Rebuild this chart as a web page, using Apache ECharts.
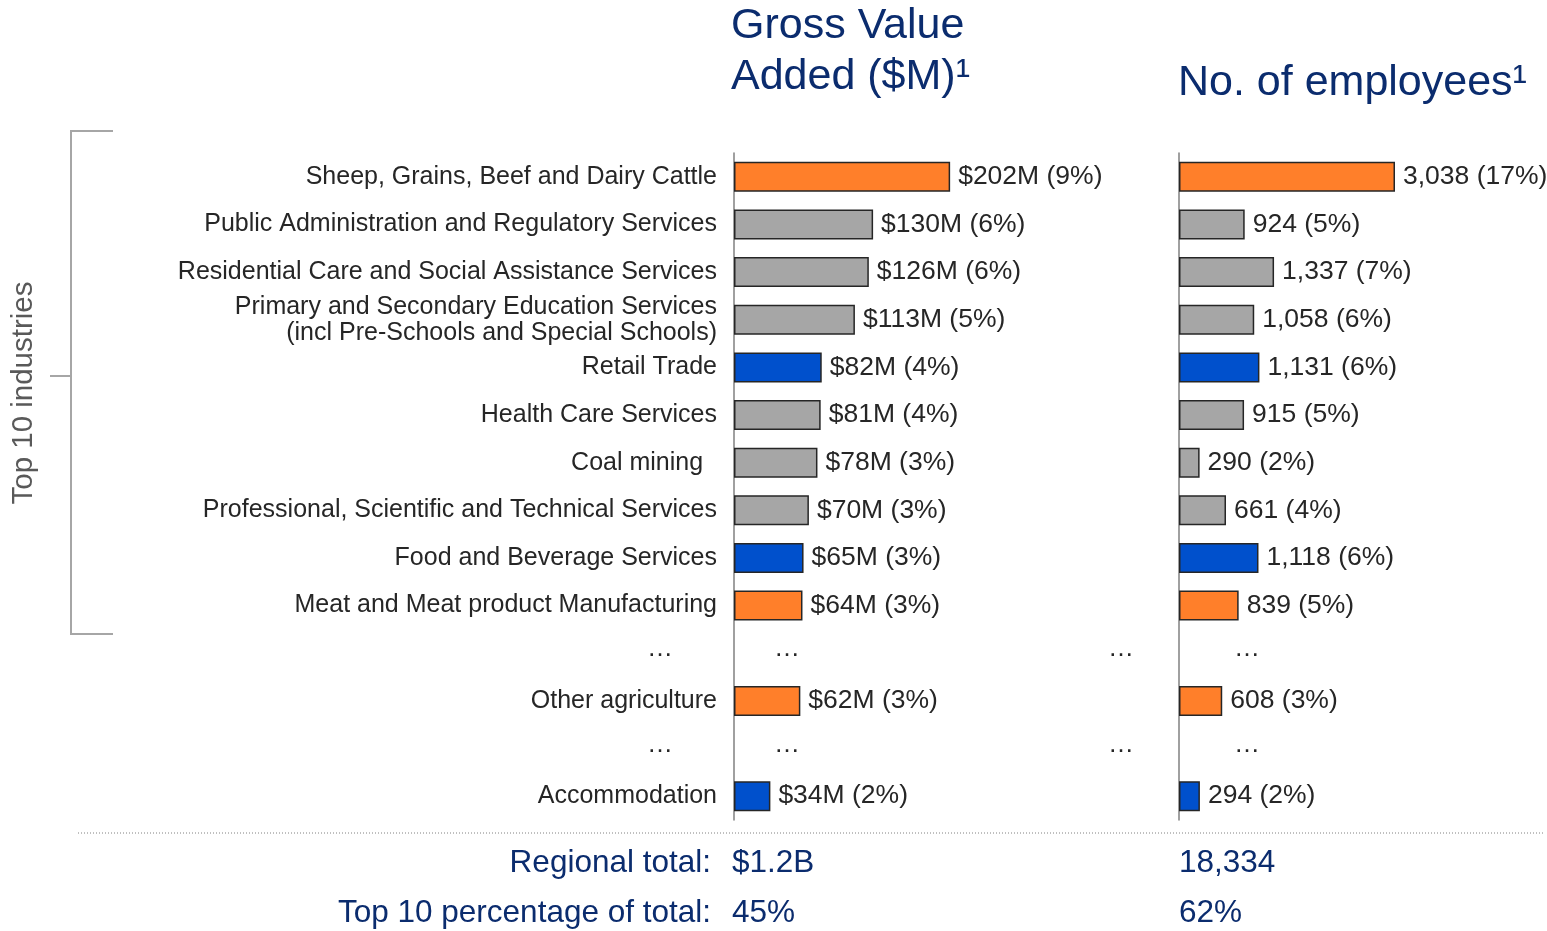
<!DOCTYPE html>
<html>
<head>
<meta charset="utf-8">
<script src="https://cdn.jsdelivr.net/npm/echarts@6/dist/echarts.min.js"></script>
<style>
  html, body { margin: 0; padding: 0; background: #fff; }
  #chart { width: 1547px; height: 931px; }
</style>
</head>
<body>
<div id="chart"></div>
<script>
// rows, top to bottom ('' marks the "…" gap rows)
const industries = [
  'Sheep, Grains, Beef and Dairy Cattle',
  'Public Administration and Regulatory Services',
  'Residential Care and Social Assistance Services',
  'Primary and Secondary Education Services\n(incl Pre-Schools and Special Schools)',
  'Retail Trade',
  'Health Care Services',
  'Coal mining  ',
  'Professional, Scientific and Technical Services',
  'Food and Beverage Services',
  'Meat and Meat product Manufacturing',
  '',
  'Other agriculture',
  '',
  'Accommodation'
];
const gvaValues = [202, 130, 126, 113, 82, 81, 78, 70, 65, 64, null, 62, null, 34];
const gvaShares = [9, 6, 6, 5, 4, 4, 3, 3, 3, 3, null, 3, null, 2];
const empValues = [3038, 924, 1337, 1058, 1131, 915, 290, 661, 1118, 839, null, 608, null, 294];
const empShares = [17, 5, 7, 6, 6, 5, 2, 4, 6, 5, null, 3, null, 2];
const groups = ['agri', 'other', 'other', 'other', 'tour', 'other', 'other', 'other', 'tour', 'agri', null, 'agri', null, 'tour'];

const groupColors = { agri: '#FF7F2A', other: '#A6A6A6', tour: '#0050CC' };
const navy = '#0B2C6E';
const textColor = '#262626';
const font = '"Liberation Sans", Arial, sans-serif';

function barData(values) {
  return values.map((v, i) => v == null ? '-' : {
    value: v,
    itemStyle: { color: groupColors[groups[i]] }
  });
}

const chart = echarts.init(document.getElementById('chart'));

const gridTop = 153, gridHeight = 667;
const rowH = gridHeight / industries.length;
const rowY = i => gridTop + rowH * (i + 0.5);

const option = {
  animation: false,
  textStyle: { fontFamily: font },
  grid: [
    { left: 734, top: gridTop, width: 428, height: gridHeight },
    { left: 1179, top: gridTop, width: 284.4, height: gridHeight }
  ],
  xAxis: [
    { gridIndex: 0, type: 'value', min: 0, max: 400, show: false },
    { gridIndex: 1, type: 'value', min: 0, max: 4000, show: false }
  ],
  yAxis: [
    {
      gridIndex: 0, type: 'category', data: industries, inverse: true,
      axisLine: { lineStyle: { color: '#808080', width: 1.5 } },
      axisTick: { show: false },
      axisLabel: { color: textColor, fontSize: 25, margin: 17, lineHeight: 26, fontFamily: font }
    },
    {
      gridIndex: 1, type: 'category', data: industries, inverse: true,
      axisLine: { lineStyle: { color: '#808080', width: 1.5 } },
      axisTick: { show: false },
      axisLabel: { show: false }
    }
  ],
  series: [
    {
      type: 'bar', xAxisIndex: 0, yAxisIndex: 0, barWidth: 30,
      data: barData(gvaValues),
      itemStyle: { borderColor: textColor, borderWidth: 1.5 },
      label: {
        show: true, position: 'right', distance: 8, color: textColor, fontSize: 26.5, fontFamily: font,
        formatter: p => '$' + p.value + 'M (' + gvaShares[p.dataIndex] + '%)'
      }
    },
    {
      type: 'bar', xAxisIndex: 1, yAxisIndex: 1, barWidth: 30,
      data: barData(empValues),
      itemStyle: { borderColor: textColor, borderWidth: 1.5 },
      label: {
        show: true, position: 'right', distance: 8, color: textColor, fontSize: 26.5, fontFamily: font,
        formatter: p => p.value.toLocaleString('en-US') + ' (' + empShares[p.dataIndex] + '%)'
      }
    }
  ],
  graphic: []
};

// headers
const g = option.graphic;
g.push({ type: 'text', left: 731, top: 1, style: { text: 'Gross Value\nAdded ($M)¹', fill: navy, font: '43px ' + font, lineHeight: 51 } });
g.push({ type: 'text', left: 1178, top: 62, style: { text: 'No. of employees¹', fill: navy, font: '43px ' + font } });

// bracket for top 10
const bracket = { stroke: '#A6A6A6', lineWidth: 2 };
g.push({ type: 'polyline', shape: { points: [[113, 131], [71, 131], [71, 634], [113, 634]] }, style: Object.assign({ fill: null }, bracket) });
g.push({ type: 'line', shape: { x1: 50, y1: 376, x2: 71, y2: 376 }, style: bracket });
g.push({ type: 'text', x: 24, y: 393, rotation: Math.PI / 2,
  style: { text: 'Top 10 industries', fill: '#595959', font: '29.5px ' + font, align: 'center', verticalAlign: 'middle' } });

// "…" gap rows
industries.forEach((name, i) => {
  if (name !== '') return;
  [660, 787, 1121, 1247].forEach(x => {
    g.push({ type: 'text', x: x, y: rowY(i) - 4,
      style: { text: '…', fill: textColor, font: '26px ' + font, align: 'center', verticalAlign: 'middle' } });
  });
});

// dotted separator and totals
g.push({ type: 'line', shape: { x1: 78, y1: 833, x2: 1545, y2: 833 }, style: { stroke: '#808080', lineWidth: 1, lineDash: [1, 2] } });
const totals = [
  ['Regional total:', '$1.2B', '18,334', 863],
  ['Top 10 percentage of total:', '45%', '62%', 913]
];
totals.forEach(t => {
  g.push({ type: 'text', x: 711, y: t[3], style: { text: t[0], fill: navy, font: '31.5px ' + font, align: 'right', verticalAlign: 'middle' } });
  g.push({ type: 'text', x: 732, y: t[3], style: { text: t[1], fill: navy, font: '31.5px ' + font, align: 'left', verticalAlign: 'middle' } });
  g.push({ type: 'text', x: 1179, y: t[3], style: { text: t[2], fill: navy, font: '31.5px ' + font, align: 'left', verticalAlign: 'middle' } });
});

chart.setOption(option);
</script>
</body>
</html>
